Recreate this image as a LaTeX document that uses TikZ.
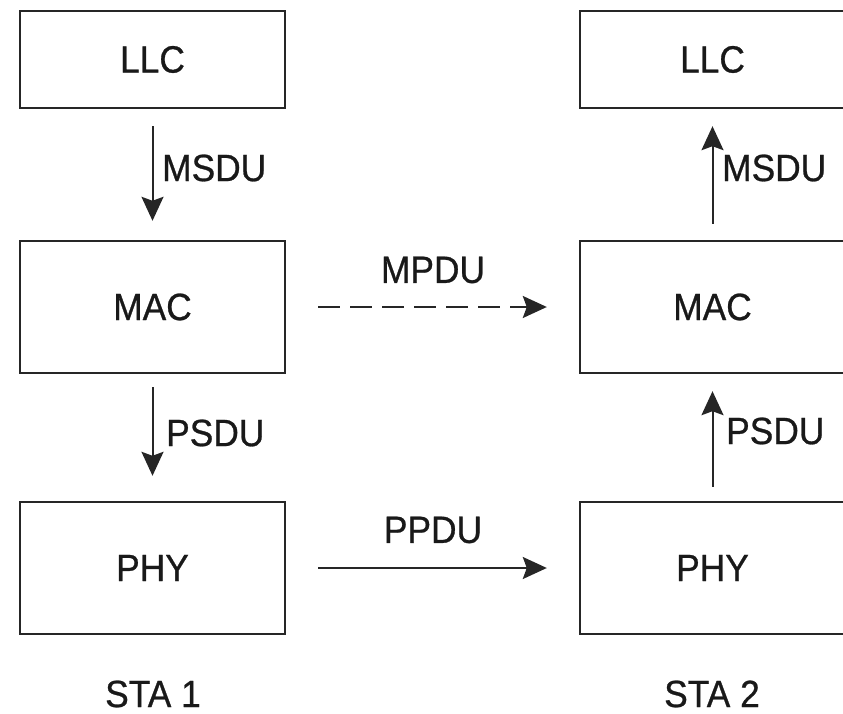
\documentclass[tikz,border=0pt]{standalone}
\usepackage{fontspec}
\setmainfont{Liberation Sans}[FakeBold=0.7, FakeStretch=0.93]
\usetikzlibrary{arrows.meta}
\begin{document}
\begin{tikzpicture}[x=1pt,y=-1pt,
  layerbox/.style={draw=black!85, line width=2.4pt, minimum width=265pt, inner sep=0pt, text=black!90, font=\fontsize{38pt}{40pt}\selectfont},
  lbl/.style={text=black!90, inner sep=0pt, font=\fontsize{38pt}{40pt}\selectfont},
  flow/.style={draw=black!85, line width=2pt, -{Stealth[length=24pt,width=22pt,inset=4pt]}},
  dashflow/.style={flow, dash pattern=on 22pt off 10pt}
]
\useasboundingbox (0,0) rectangle (843,714);
\fill[white] (0,0) rectangle (843,714);
% STA 1
\node[layerbox, minimum height=97pt] (llc1) at (152.5,59.5) {LLC};
\node[layerbox, minimum height=132pt] (mac1) at (152.5,307) {MAC};
\node[layerbox, minimum height=132pt] (phy1) at (152.5,568) {PHY};
% STA 2
\node[layerbox, minimum height=97pt] (llc2) at (712.5,59.5) {LLC};
\node[layerbox, minimum height=132pt] (mac2) at (712.5,307) {MAC};
\node[layerbox, minimum height=132pt] (phy2) at (712.5,568) {PHY};
% arrows
\draw[flow, shorten <=17pt, shorten >=19pt] (llc1.south) -- (mac1.north);
\draw[flow, shorten <=13pt, shorten >=25pt] (mac1.south) -- (phy1.north);
\draw[flow, shorten <=16pt, shorten >=17pt] (mac2.north) -- (llc2.south);
\draw[flow, shorten <=14pt, shorten >=17pt] (phy2.north) -- (mac2.south);
\draw[dashflow, shorten <=32pt, shorten >=32pt] (mac1.east) -- (mac2.west);
\draw[flow, shorten <=32pt, shorten >=32pt] (phy1.east) -- (phy2.west);
% labels
\node[lbl, anchor=west] (msdu1) at (162,168) {MSDU};
\node[lbl, anchor=west] (psdu1) at (166,433) {PSDU};
\node[lbl, anchor=west] (msdu2) at (722,168) {MSDU};
\node[lbl, anchor=west] (psdu2) at (726,431) {PSDU};
\node[lbl] (mpdu) at (433,270) {MPDU};
\node[lbl] (ppdu) at (433,530) {PPDU};
\node[lbl] (sta1) at (153,694) {STA 1};
\node[lbl] (sta2) at (712,694) {STA 2};
\end{tikzpicture}
\end{document}
